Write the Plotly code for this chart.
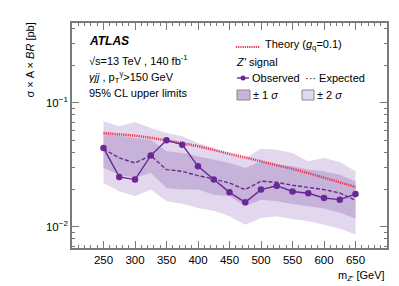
import plotly.graph_objects as go

mass = [250, 275, 300, 325, 350, 375, 400, 425, 450, 475, 500, 525, 550, 575, 600, 625, 650]
observed = [0.0434, 0.0253, 0.0241, 0.0376, 0.0500, 0.0461, 0.0308, 0.0241, 0.0190, 0.0158,
            0.0200, 0.0215, 0.0193, 0.0187, 0.0171, 0.0166, 0.0184]
expected = [0.0425, 0.0360, 0.0328, 0.0376, 0.0290, 0.0281, 0.0259, 0.0244, 0.0226, 0.0200,
            0.0234, 0.0229, 0.0217, 0.0209, 0.0200, 0.0188, 0.0164]
theory = [0.0573, 0.0560, 0.0545, 0.0524, 0.0500, 0.0474, 0.0448, 0.0418, 0.0390, 0.0365,
          0.0340, 0.0318, 0.0294, 0.0272, 0.0250, 0.0229, 0.0210]
up2 = [0.0712, 0.0649, 0.0703, 0.0629, 0.0573, 0.0539, 0.0476, 0.0434, 0.0388, 0.0360,
       0.0428, 0.0420, 0.0395, 0.0339, 0.0360, 0.0334, 0.0281]
up1 = [0.0573, 0.0545, 0.0522, 0.0506, 0.0408, 0.0395, 0.0372, 0.0349, 0.0328, 0.0299,
       0.0339, 0.0318, 0.0309, 0.0290, 0.0281, 0.0264, 0.0234]
dn1 = [0.0299, 0.0264, 0.0248, 0.0273, 0.0206, 0.0200, 0.0200, 0.0182, 0.0177, 0.0147,
       0.0166, 0.0161, 0.0153, 0.0147, 0.0141, 0.0130, 0.0117]
dn2 = [0.0226, 0.0194, 0.0177, 0.0200, 0.0161, 0.0154, 0.0142, 0.0135, 0.0122, 0.0104,
       0.0118, 0.0122, 0.0116, 0.0111, 0.0104, 0.0097, 0.0087]

y_tickvals = [0.01, 0.1]
y_ticktext = ["10<sup>\u22122</sup>", "10<sup>\u22121</sup>"]
x_tickvals = [250, 300, 350, 400, 450, 500, 550, 600, 650]

C2 = "rgb(226,215,236)"
C1 = "rgb(199,178,218)"
PURPLE = "rgb(105,40,150)"
RED = "rgb(232,52,78)"
FONT = "Liberation Sans, Arial, sans-serif"
AX = "#7a7a7a"

fig = go.Figure()
fig.add_trace(go.Scatter(x=mass, y=up2, mode="lines", line=dict(width=0), showlegend=False, hoverinfo="skip"))
fig.add_trace(go.Scatter(x=mass, y=dn2, mode="lines", line=dict(width=0), fill="tonexty",
                         fillcolor=C2, showlegend=False, hoverinfo="skip"))
fig.add_trace(go.Scatter(x=mass, y=up1, mode="lines", line=dict(width=0), showlegend=False, hoverinfo="skip"))
fig.add_trace(go.Scatter(x=mass, y=dn1, mode="lines", line=dict(width=0), fill="tonexty",
                         fillcolor=C1, showlegend=False, hoverinfo="skip"))
fig.add_trace(go.Scatter(x=mass, y=theory, mode="lines", line=dict(color=RED, width=2.5, dash="1.2px,1px"),
                         showlegend=False))
fig.add_trace(go.Scatter(x=mass, y=expected, mode="lines", line=dict(color=PURPLE, width=1.4, dash="4px,2px"),
                         showlegend=False))
fig.add_trace(go.Scatter(x=mass, y=observed, mode="lines+markers", line=dict(color=PURPLE, width=1.4),
                         marker=dict(size=6.5, color=PURPLE), showlegend=False))

def px_x(px):
    return (px - 64) / 315.0

def px_y(py):
    return (240 - py) / 225.0

ann = []
def txt(x, y, s, size=11, xanchor="left", **kw):
    ann.append(dict(x=x, y=y, xref="paper", yref="paper", text=s, showarrow=False,
                    xanchor=xanchor, yanchor="middle", font=dict(family=FONT, size=size, color="black"), **kw))

txt(px_x(79), px_y(33), "<b><i>ATLAS</i></b>", size=12)
txt(px_x(79), px_y(52), "\u221as=13 TeV , 140 fb<sup>-1</sup>", size=11)
txt(px_x(79), px_y(69), "<i>\u03b3jj</i> , p<sub>T</sub><sup>\u03b3</sup>>150 GeV", size=11)
txt(px_x(79), px_y(85), "95% CL upper limits", size=11)

txt(px_x(255), px_y(37), "Theory (<i>g</i><sub>q</sub>=0.1)", size=11)
txt(px_x(226), px_y(54), "<i>Z'</i> signal", size=11)
txt(px_x(242), px_y(70), "Observed", size=11)
txt(px_x(295), px_y(70), "\u00b7\u00b7\u00b7 Expected", size=11)
txt(px_x(243), px_y(87), "\u00b1 1 <i>\u03c3</i>", size=11)
txt(px_x(307), px_y(87), "\u00b1 2 <i>\u03c3</i>", size=11)

# axis titles
ann.append(dict(x=px_x(22), y=px_y(13), xref="paper", yref="paper", text="\u03c3 \u00d7 A \u00d7 <i>BR</i> [pb]",
                showarrow=False, textangle=-90, xanchor="center", yanchor="top",
                font=dict(family=FONT, size=11, color="black")))
ann.append(dict(x=1.0, y=px_y(268), xref="paper", yref="paper", text="m<sub><i>Z'</i></sub> [GeV]",
                showarrow=False, xanchor="right", yanchor="middle",
                font=dict(family=FONT, size=11, color="black")))

shapes = [
    dict(type="line", xref="paper", yref="paper", x0=px_x(228), x1=px_x(252), y0=px_y(39), y1=px_y(39),
         line=dict(color=RED, width=2, dash="1.2px,1px")),
    dict(type="line", xref="paper", yref="paper", x0=px_x(229), x1=px_x(241), y0=px_y(70), y1=px_y(70),
         line=dict(color=PURPLE, width=1.4)),
    dict(type="circle", xref="paper", yref="paper", x0=px_x(232.5), x1=px_x(237.5), y0=px_y(67.5), y1=px_y(72.5),
         fillcolor=PURPLE, line=dict(color=PURPLE, width=0)),
    dict(type="rect", xref="paper", yref="paper", x0=px_x(229), x1=px_x(242), y0=px_y(92), y1=px_y(82),
         fillcolor=C1, line=dict(color="#8a8a8a", width=1)),
    dict(type="rect", xref="paper", yref="paper", x0=px_x(294), x1=px_x(306), y0=px_y(92), y1=px_y(82),
         fillcolor=C2, line=dict(color="#8a8a8a", width=1)),
]

fig.update_layout(
    width=399, height=286,
    margin=dict(l=64, r=20, t=15, b=46),
    paper_bgcolor="white", plot_bgcolor="white",
    showlegend=False,
    annotations=ann, shapes=shapes,
    font=dict(family=FONT, size=11, color="black"),
)
fig.update_xaxes(range=[200, 700], tickvals=x_tickvals, ticks="inside", ticklen=7, tickwidth=1, tickcolor=AX,
                 showline=True, linecolor=AX, linewidth=1.5, mirror="allticks", showgrid=False, zeroline=False,
                 tickfont=dict(family=FONT, size=11.5, color="black"),
                 minor=dict(ticks="inside", dtick=10, tick0=200, ticklen=3.5, tickcolor=AX, showgrid=False))
fig.update_yaxes(type="log", range=[-2.17, -0.355], tickvals=y_tickvals, ticktext=y_ticktext,
                 ticks="inside", ticklen=7, tickwidth=1, tickcolor=AX,
                 showline=True, linecolor=AX, linewidth=1.5, mirror="allticks", showgrid=False, zeroline=False,
                 tickfont=dict(family=FONT, size=11.5, color="black"),
                 minor=dict(ticks="inside", dtick="D1", ticklen=3.5, tickcolor=AX, showgrid=False))

fig.write_html("out.html")
